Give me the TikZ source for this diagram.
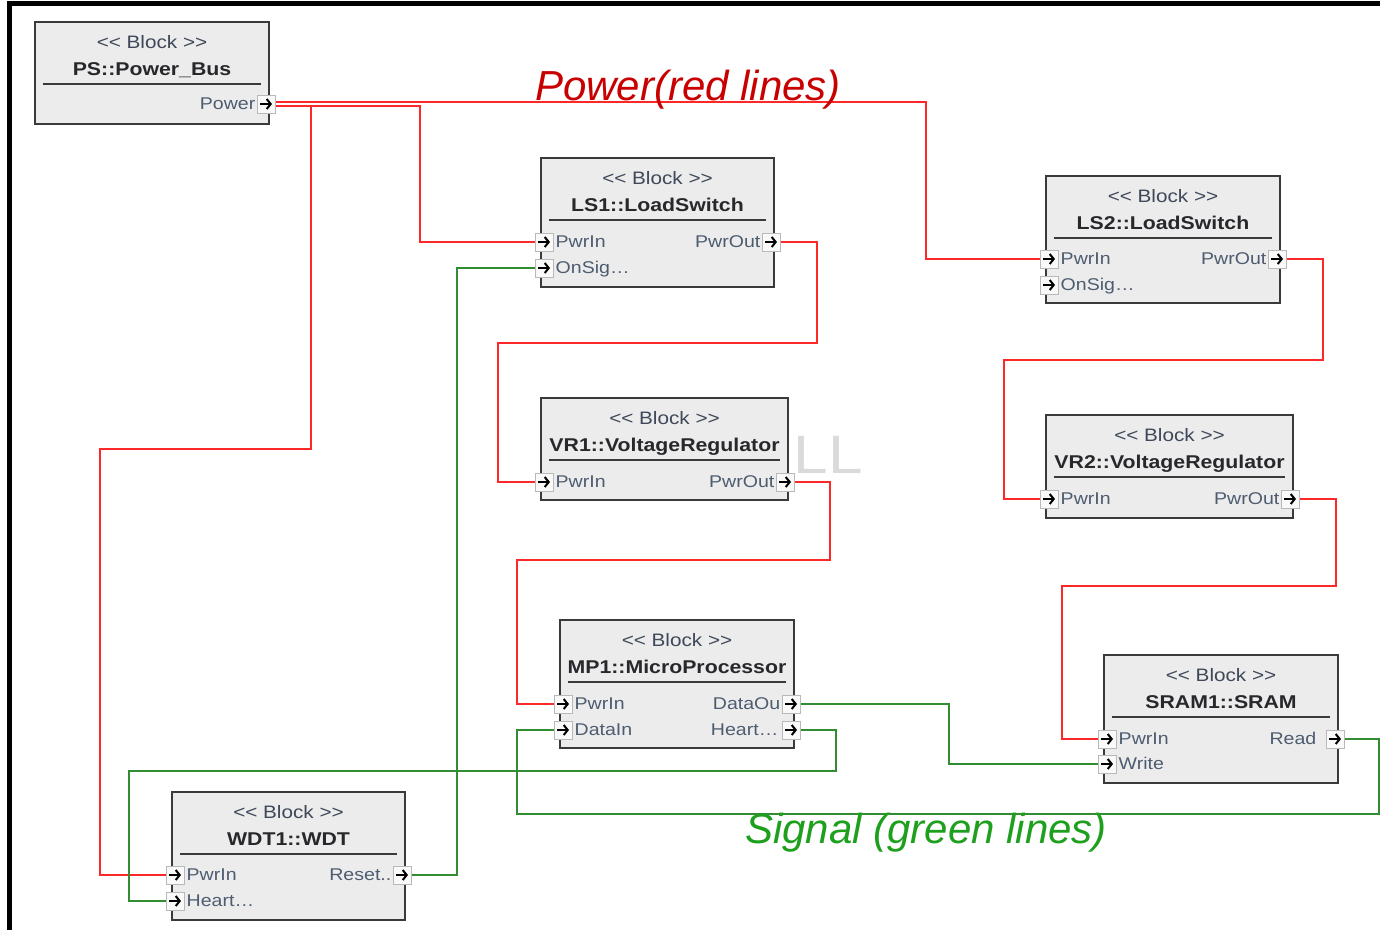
\documentclass[tikz,border=0pt]{standalone}
\usepackage{fontspec}
\setmainfont[FakeStretch=1.15]{Liberation Sans}
\newfontfamily\ttlfont{Liberation Sans}
\usetikzlibrary{arrows.meta}
\definecolor{blkfill}{RGB}{236,236,236}
\definecolor{blkdraw}{RGB}{58,58,58}
\definecolor{sttext}{RGB}{62,72,88}
\definecolor{nmtext}{RGB}{40,40,44}
\definecolor{pttext}{RGB}{78,92,112}
\definecolor{pwline}{RGB}{255,40,40}
\definecolor{sgline}{RGB}{50,140,50}
\definecolor{pwtitle}{RGB}{200,0,0}
\definecolor{sgtitle}{RGB}{30,160,30}
\definecolor{ghost}{RGB}{218,218,218}
\tikzset{
 blk/.style={draw=blkdraw, line width=1.8pt, fill=blkfill, inner sep=0pt, rectangle},
 stereo/.style={text=sttext, font=\fontsize{18}{20}\selectfont, inner sep=0pt, anchor=mid},
 bname/.style={text=nmtext, font=\bfseries\fontsize{18.5}{20}\selectfont, inner sep=0pt, anchor=mid},
 sepline/.style={draw=blkdraw, line width=1.2pt},
 port/.style={draw=gray!55, fill=white!95!gray, line width=1pt, minimum size=18pt, inner sep=0pt,
   path picture={\draw[black,line width=2.2pt,-{Straight Barb[length=4pt,width=10pt,line width=2pt]}]
     ([xshift=3pt]path picture bounding box.west) -- ([xshift=-3pt]path picture bounding box.east);}},
 plabl/.style={text=pttext, font=\fontsize{17}{19}\selectfont, inner sep=0pt, anchor=mid west, yshift=-3pt},
 plabr/.style={text=pttext, font=\fontsize{17}{19}\selectfont, inner sep=0pt, anchor=mid east, yshift=-3pt},
 pw/.style={draw=pwline, line width=1.8pt},
 sg/.style={draw=sgline, line width=1.8pt},
 ttl/.style={font=\ttlfont\itshape\fontsize{42}{48}\selectfont, inner sep=0pt, anchor=base},
}
\newcommand\mkblock[6]{%
 \node[blk, minimum width={#4-#2}, minimum height={#5-#3}] (#1) at ({(#2+#4)/2},{(#3+#5)/2}) {};
 \node[stereo] (#1-st) at ({(#2+#4)/2},{#3+23.5}) {<{}< Block >{}>};
 \node[bname] (#1-nm) at ({(#2+#4)/2},{#3+51}) {#6};
 \draw[sepline] ({#2+8},{#3+62}) -- ({#4-8},{#3+62});
}
\begin{document}
\begin{tikzpicture}[x=1pt,y=-1pt]
\useasboundingbox (0,0) rectangle (1380,930);
\fill[white] (0,0) rectangle (1380,930);
% frame
\fill[black] (7,1) rectangle (1380,6);
\fill[black] (7,1) rectangle (12,930);
% ghost text
\node[text=ghost, font=\fontsize{54}{60}\selectfont, inner sep=0pt] (ghost) at (828,455) {LL};

% blocks
\mkblock{ps}{35}{22}{269}{124}{PS::Power\_Bus}
\mkblock{ls1}{541}{158}{774}{287}{LS1::LoadSwitch}
\mkblock{ls2}{1046}{176}{1280}{303}{LS2::LoadSwitch}
\mkblock{vr1}{541}{398}{788}{500}{VR1::VoltageRegulator}
\mkblock{vr2}{1046}{415}{1293}{518}{VR2::VoltageRegulator}
\mkblock{mp}{560}{620}{794}{748}{MP1::MicroProcessor}
\mkblock{sr}{1104}{655}{1338}{783}{SRAM1::SRAM}
\mkblock{wd}{172}{792}{405}{920}{WDT1::WDT}

% ports
\node[port] (psP) at (266,104) {};
\node[plabr] (psP-l) at ([xshift=-1pt]psP.west) {Power};

\node[port] (ls1a) at (544,242) {};
\node[plabl] (ls1a-l) at ([xshift=2pt]ls1a.east) {PwrIn};
\node[port] (ls1b) at (544,268) {};
\node[plabl] (ls1b-l) at ([xshift=2pt]ls1b.east) {OnSig…};
\node[port] (ls1o) at (771,242) {};
\node[plabr] (ls1o-l) at ([xshift=-1pt]ls1o.west) {PwrOut};

\node[port] (ls2a) at (1049,259) {};
\node[plabl] (ls2a-l) at ([xshift=2pt]ls2a.east) {PwrIn};
\node[port] (ls2b) at (1049,285) {};
\node[plabl] (ls2b-l) at ([xshift=2pt]ls2b.east) {OnSig…};
\node[port] (ls2o) at (1277,259) {};
\node[plabr] (ls2o-l) at ([xshift=-1pt]ls2o.west) {PwrOut};

\node[port] (vr1a) at (544,482) {};
\node[plabl] (vr1a-l) at ([xshift=2pt]vr1a.east) {PwrIn};
\node[port] (vr1o) at (785,482) {};
\node[plabr] (vr1o-l) at ([xshift=-1pt]vr1o.west) {PwrOut};

\node[port] (vr2a) at (1049,499) {};
\node[plabl] (vr2a-l) at ([xshift=2pt]vr2a.east) {PwrIn};
\node[port] (vr2o) at (1290,499) {};
\node[plabr] (vr2o-l) at ([xshift=-1pt]vr2o.west) {PwrOut};

\node[port] (mpa) at (563,704) {};
\node[plabl] (mpa-l) at ([xshift=2pt]mpa.east) {PwrIn};
\node[port] (mpb) at (563,730) {};
\node[plabl] (mpb-l) at ([xshift=2pt]mpb.east) {DataIn};
\node[port] (mpo) at (791,704) {};
\node[plabr] (mpo-l) at ([xshift=-1pt]mpo.west) {DataOu};
\node[port] (mph) at (791,730) {};
\node[plabr] (mph-l) at ([xshift=-3pt]mph.west) {Heart…};

\node[port] (sra) at (1107,739) {};
\node[plabl] (sra-l) at ([xshift=2pt]sra.east) {PwrIn};
\node[port] (srb) at (1107,764) {};
\node[plabl] (srb-l) at ([xshift=2pt]srb.east) {Write};
\node[port] (sro) at (1335,739) {};
\node[plabr] (sro-l) at ([xshift=-9pt]sro.west) {Read};

\node[port] (wda) at (175,875) {};
\node[plabl] (wda-l) at ([xshift=2pt]wda.east) {PwrIn};
\node[port] (wdb) at (175,901) {};
\node[plabl] (wdb-l) at ([xshift=2pt]wdb.east) {Heart…};
\node[port] (wdo) at (402,875) {};
\node[plabr] (wdo-l) at ([xshift=-1pt]wdo.west) {Reset..};

% power connectors (red)
\draw[pw] ([yshift=2pt]psP.east) -| (926,180) |- (ls2a.west);
\draw[pw] ([yshift=-2pt]psP.east) -| (420,180) |- (ls1a.west);
\draw[pw] ([yshift=-2pt]psP.east) -| (311,449) -| (100,700) |- (wda.west);
\draw[pw] (ls1o.east) -| (817,343) -| (498,420) |- (vr1a.west);
\draw[pw] (vr1o.east) -| (830,560) -| (517,650) |- (mpa.west);
\draw[pw] (ls2o.east) -| (1323,360) -| (1004,420) |- (vr2a.west);
\draw[pw] (vr2o.east) -| (1336,586) -| (1062,660) |- (sra.west);

% signal connectors (green)
\draw[sg] (wdo.east) -| (457,500) |- (ls1b.west);
\draw[sg] (mpo.east) -| (949,740) |- (srb.west);
\draw[sg] (mph.east) -| (836,771) -| (129,850) |- (wdb.west);
\draw[sg] (sro.east) -| (1379,814) -| (517,780) |- (mpb.west);

% titles
\node[ttl, text=pwtitle] (pwtitle) at (688,100) {Power(red lines)};
\node[ttl, text=sgtitle] (sgtitle) at (926,843) {Signal (green lines)};
\end{tikzpicture}
\end{document}
